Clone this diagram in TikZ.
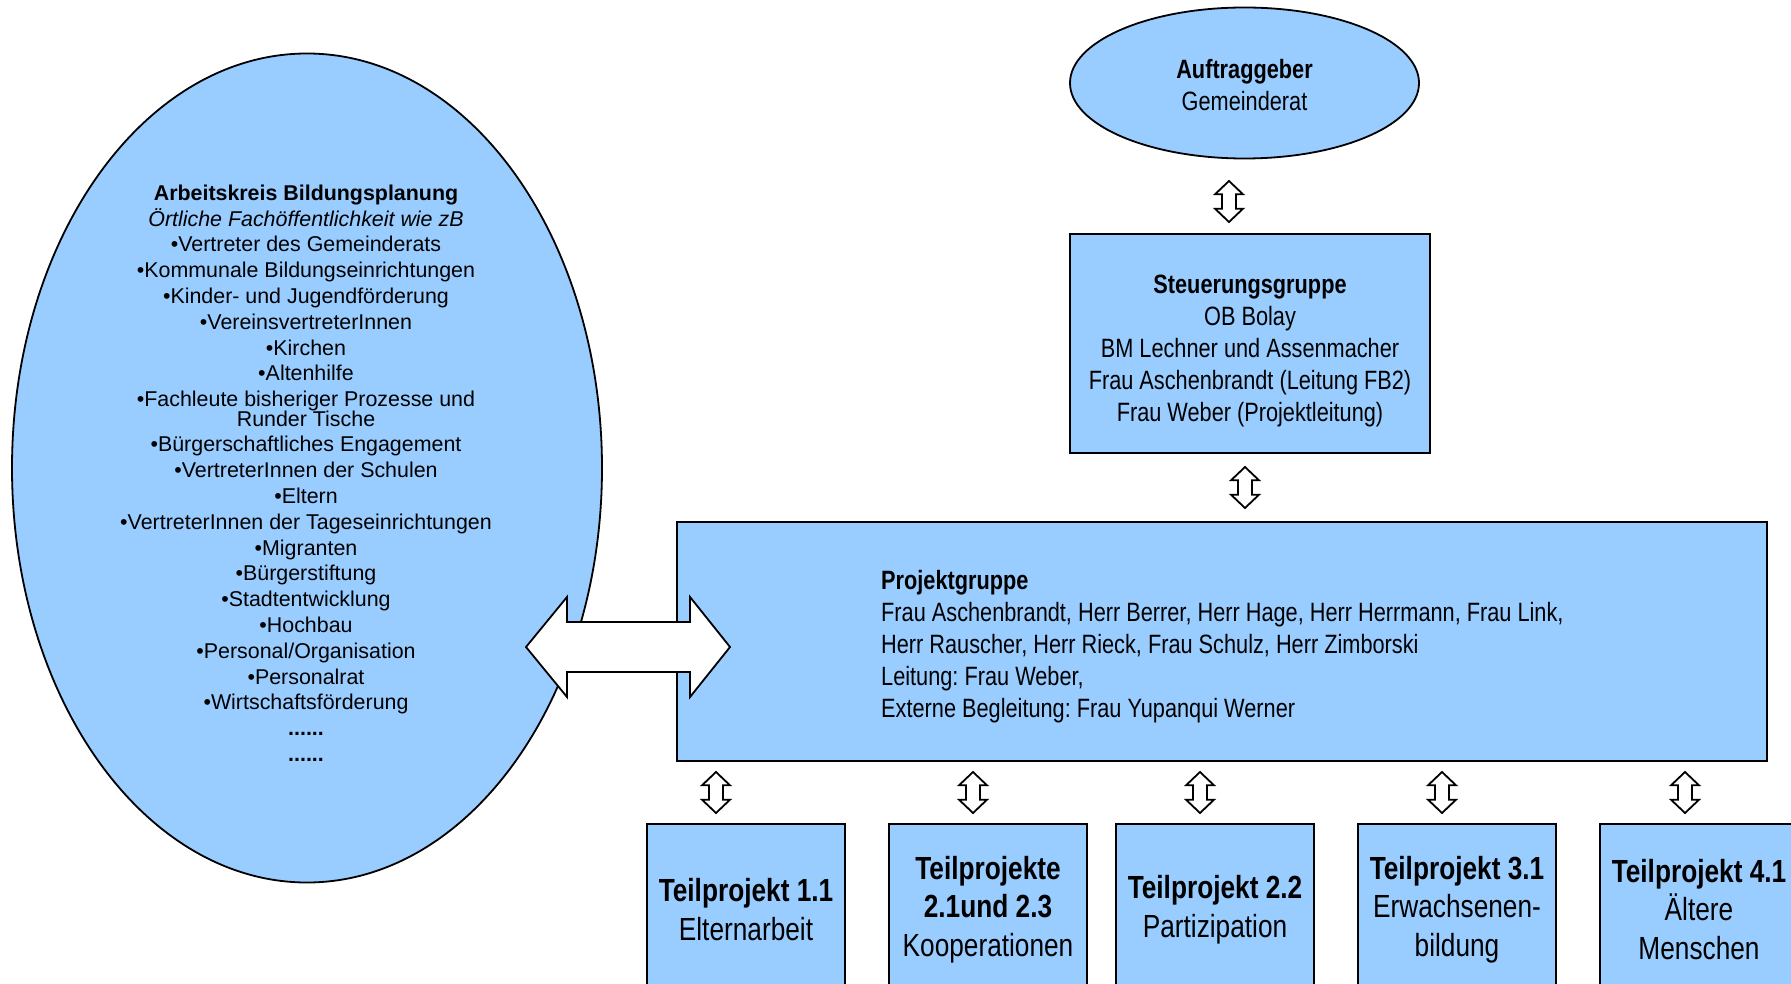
\documentclass[tikz,border=0pt]{standalone}
\usepackage{fontspec}
\setmainfont{Liberation Sans}
\newfontfamily\narrowfont[FakeStretch=0.82]{Liberation Sans}
\usetikzlibrary{shapes.geometric,calc}
\definecolor{boxblue}{HTML}{99CCFF}
\frenchspacing
\begin{document}
\begin{tikzpicture}[x=1pt,y=-1pt,
  blueshape/.style={draw=black, fill=boxblue, line width=1.8pt},
  arrowline/.style={draw=black, fill=white, line width=1.8pt, line join=miter},
  narrowtxt/.style={font=\narrowfont\fontsize{26.5}{32}\selectfont, align=center},
  tptxt/.style={font=\narrowfont\fontsize{32}{38.5}\selectfont, align=center},
  tpbox/.style={blueshape, rectangle, minimum width=198pt, minimum height=171pt, inner sep=0pt, tptxt},
  vdarrow/.pic={\path[arrowline] (0,-20.5) -- (14,-7.2) -- (7,-7.2) -- (7,7.2) -- (14,7.2) -- (0,20.5) -- (-14,7.2) -- (-7,7.2) -- (-7,-7.2) -- (-14,-7.2) -- cycle;}
]
\useasboundingbox[fill=white] (0,0) rectangle (1791,984);

% left ellipse
\node[blueshape, ellipse, minimum width=590pt, minimum height=829pt, inner sep=0pt] (ak) at (307,468) {};
\node[font=\fontsize{21.4}{25.8}\selectfont, align=center, inner sep=0pt, anchor=north] (aktext) at (306,184.5)
{\textbf{Arbeitskreis Bildungsplanung}\\
\textit{Örtliche Fachöffentlichkeit wie zB}\\
•Vertreter des Gemeinderats\\
•Kommunale Bildungseinrichtungen\\
•Kinder- und Jugendförderung\\
•VereinsvertreterInnen\\
•Kirchen\\
•Altenhilfe\\
•Fachleute bisheriger Prozesse und\\[-6.4pt]
Runder Tische\\
•Bürgerschaftliches Engagement\\
•VertreterInnen der Schulen\\
•Eltern\\
•VertreterInnen der Tageseinrichtungen\\
•Migranten\\
•Bürgerstiftung\\
•Stadtentwicklung\\
•Hochbau\\
•Personal/Organisation\\
•Personalrat\\
•Wirtschaftsförderung\\
\textbf{......}\\
\textbf{......}};

% top ellipse
\node[blueshape, ellipse, minimum width=349pt, minimum height=151pt, inner sep=0pt] (auf) at (1244.5,83) {};
\node[narrowtxt, inner sep=0pt] (auftext) at (1244.5,85) {\textbf{Auftraggeber}\\Gemeinderat};

% Steuerungsgruppe
\node[blueshape, rectangle, minimum width=360pt, minimum height=219pt, inner sep=0pt] (steu) at (1250,343.5) {};
\node[narrowtxt, inner sep=0pt] (steutext) at (1250,350.5)
{\textbf{Steuerungsgruppe}\\OB Bolay\\BM Lechner und Assenmacher\\Frau Aschenbrandt (Leitung FB2)\\Frau Weber (Projektleitung)};

% Projektgruppe
\node[blueshape, rectangle, minimum width=1090pt, minimum height=239pt, inner sep=0pt] (pg) at (1222,641.5) {};
\node[narrowtxt, align=left, anchor=west, inner sep=0pt] (pgtext) at (881,646.5)
{\textbf{Projektgruppe}\\
Frau Aschenbrandt, Herr Berrer, Herr Hage, Herr Herrmann, Frau Link,\\
Herr Rauscher, Herr Rieck, Frau Schulz, Herr Zimborski\\
Leitung: Frau Weber,\\
Externe Begleitung: Frau Yupanqui Werner};

% Teilprojekte
\node[tpbox] (tp1) at (746,909.5) {\textbf{Teilprojekt 1.1}\\Elternarbeit};
\node[tpbox] (tp2) at (988,909.5) {\textbf{Teilprojekte}\\\textbf{2.1und 2.3}\\Kooperationen};
\node[tpbox] (tp3) at (1215,909.5) {\textbf{Teilprojekt 2.2}\\Partizipation};
\node[tpbox] (tp4) at (1457,909.5) {\textbf{Teilprojekt 3.1}\\Erwachsenen-\\bildung};
\node[tpbox] (tp5) at (1699,909.5) {\textbf{Teilprojekt 4.1}\\Ältere\\Menschen};

% big double arrow between ak and pg
\coordinate (bigL) at (526,647);
\coordinate (bigR) at (730,647);
\path[arrowline] (bigL) -- ($(bigL)+(41,-50)$) -- ($(bigL)+(41,-25)$) -- ($(bigR)+(-40,-25)$) -- ($(bigR)+(-40,-50)$) -- (bigR)
  -- ($(bigR)+(-40,50)$) -- ($(bigR)+(-40,25)$) -- ($(bigL)+(41,25)$) -- ($(bigL)+(41,50)$) -- cycle;

% small double arrows
\pic at (1229,201.5) {vdarrow};
\pic at (1245,487.5) {vdarrow};
\pic at (716,792.5) {vdarrow};
\pic at (973,792.5) {vdarrow};
\pic at (1200,792.5) {vdarrow};
\pic at (1442,792.5) {vdarrow};
\pic at (1685,792.5) {vdarrow};
\end{tikzpicture}
\end{document}
